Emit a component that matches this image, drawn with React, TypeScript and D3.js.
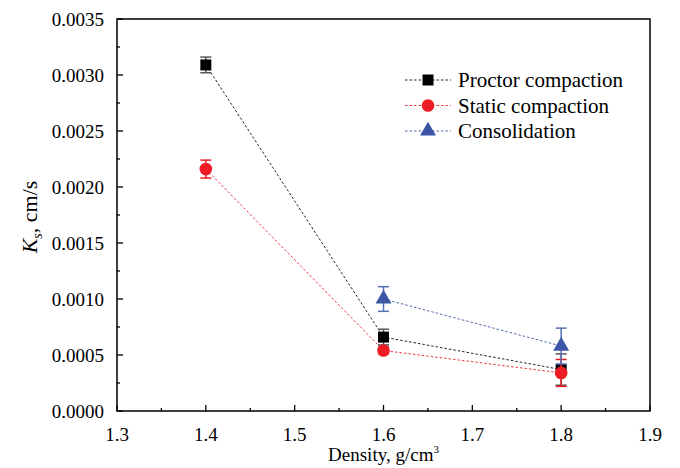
import React, { useEffect, useRef } from "react";
import * as d3 from "d3";

const densities = [1.4, 1.6, 1.8];

const proctor = [0.00309, 0.00066, 0.00037];
const proctorErr = [0.00007, 0.00007, 0.00014];

const staticComp = [0.00216, 0.00054, 0.00034];
const staticErr = [0.00008, 0.00003, 0.00012];

const consDensities = [1.6, 1.8];
const consolidation = [0.001, 0.00058];
const consErr = [0.00011, 0.00016];

const xTicks = [1.3, 1.4, 1.5, 1.6, 1.7, 1.8, 1.9];
const yTicks = [0, 0.0005, 0.001, 0.0015, 0.002, 0.0025, 0.003, 0.0035];

const legendNames = ["Proctor compaction", "Static compaction", "Consolidation"];

const FONT = "Liberation Serif";

const App = () => {
  const ref = useRef<SVGSVGElement>(null);

  useEffect(() => {
    const width = 680;
    const height = 468;
    const m = { left: 117, right: 30, top: 19, bottom: 57 };

    const svg = d3.select(ref.current);
    svg.selectAll("*").remove();
    svg.attr("width", width).attr("height", height).attr("font-family", FONT);

    const x = d3.scaleLinear().domain([1.3, 1.9]).range([m.left, width - m.right]);
    const y = d3.scaleLinear().domain([0, 0.0035]).range([height - m.bottom, m.top]);

    const g = svg.append("g");

    // frame
    g.append("rect")
      .attr("x", x(1.3))
      .attr("y", y(0.0035))
      .attr("width", x(1.9) - x(1.3))
      .attr("height", y(0) - y(0.0035))
      .attr("fill", "none")
      .attr("stroke", "#000")
      .attr("stroke-width", 1.5);

    // x ticks (inward)
    const xMinor = d3.range(1.35, 1.9, 0.1);
    g.selectAll(".xt")
      .data(xTicks)
      .enter()
      .append("line")
      .attr("x1", (d) => x(d))
      .attr("x2", (d) => x(d))
      .attr("y1", y(0))
      .attr("y2", y(0) - 6)
      .attr("stroke", "#000")
      .attr("stroke-width", 1.3);
    g.selectAll(".xm")
      .data(xMinor)
      .enter()
      .append("line")
      .attr("x1", (d) => x(d))
      .attr("x2", (d) => x(d))
      .attr("y1", y(0))
      .attr("y2", y(0) - 3)
      .attr("stroke", "#000")
      .attr("stroke-width", 1.3);
    g.selectAll(".xl")
      .data(xTicks)
      .enter()
      .append("text")
      .attr("x", (d) => x(d))
      .attr("y", y(0) + 30)
      .attr("text-anchor", "middle")
      .attr("font-family", FONT)
      .attr("font-size", 19)
      .text((d) => d3.format(".1f")(d));

    // y ticks (inward)
    const yMinor = d3.range(0.00025, 0.0035, 0.0005);
    g.selectAll(".yt")
      .data(yTicks)
      .enter()
      .append("line")
      .attr("x1", x(1.3))
      .attr("x2", x(1.3) + 6)
      .attr("y1", (d) => y(d))
      .attr("y2", (d) => y(d))
      .attr("stroke", "#000")
      .attr("stroke-width", 1.3);
    g.selectAll(".ym")
      .data(yMinor)
      .enter()
      .append("line")
      .attr("x1", x(1.3))
      .attr("x2", x(1.3) + 3)
      .attr("y1", (d) => y(d))
      .attr("y2", (d) => y(d))
      .attr("stroke", "#000")
      .attr("stroke-width", 1.3);
    g.selectAll(".yl")
      .data(yTicks)
      .enter()
      .append("text")
      .attr("x", x(1.3) - 13)
      .attr("y", (d) => y(d))
      .attr("dy", "0.35em")
      .attr("text-anchor", "end")
      .attr("font-family", FONT)
      .attr("font-size", 19)
      .text((d) => d3.format(".4f")(d));

    // axis titles
    const xt = g.append("text")
      .attr("x", (x(1.3) + x(1.9)) / 2)
      .attr("y", 461)
      .attr("text-anchor", "middle")
      .attr("font-family", FONT)
      .attr("font-size", 19);
    xt.append("tspan").text("Density, g/cm");
    xt.append("tspan").attr("font-size", 11).attr("dy", -8).text("3");

    const yt = g.append("text")
      .attr("transform", `translate(37,${y(0.00175) + 2}) rotate(-90)`)
      .attr("text-anchor", "middle")
      .attr("font-family", FONT)
      .attr("font-size", 22);
    yt.append("tspan").attr("font-style", "italic").text("K");
    yt.append("tspan").attr("font-style", "italic").attr("font-size", 14).attr("dy", 5).text("s");
    yt.append("tspan").attr("dy", -5).text(", cm/s");

    const series = [
      { xs: densities, ys: proctor, err: proctorErr, color: "#000", line: "#222", errColor: "#555", shape: d3.symbolSquare, size: 121 },
      { xs: densities, ys: staticComp, err: staticErr, color: "#ee1c24", line: "#f03a40", errColor: "#ee1c24", shape: d3.symbolCircle, size: 125 },
      { xs: consDensities, ys: consolidation, err: consErr, color: "#3b56a6", line: "#5068b0", errColor: "#5570b8", shape: d3.symbolTriangle, size: 110 },
    ];

    series.forEach((s) => {
      const pts = s.xs.map((d, i) => [x(d), y(s.ys[i])] as [number, number]);
      g.append("path")
        .attr("d", d3.line()(pts))
        .attr("fill", "none")
        .attr("stroke", s.line)
        .attr("stroke-width", 1)
        .attr("stroke-dasharray", "2.5,2");

      s.xs.forEach((d, i) => {
        const cx = x(d);
        const top = y(s.ys[i] + s.err[i]);
        const bot = y(s.ys[i] - s.err[i]);
        const eg = g.append("g").attr("stroke", s.errColor).attr("stroke-width", 1.5);
        eg.append("line").attr("x1", cx).attr("x2", cx).attr("y1", top).attr("y2", bot);
        eg.append("line").attr("x1", cx - 5.5).attr("x2", cx + 5.5).attr("y1", top).attr("y2", top);
        eg.append("line").attr("x1", cx - 5.5).attr("x2", cx + 5.5).attr("y1", bot).attr("y2", bot);
      });

      g.selectAll(null)
        .data(s.xs)
        .enter()
        .append("path")
        .attr("d", d3.symbol().type(s.shape).size(s.size)())
        .attr("transform", (d, i) => `translate(${x(d)},${y(s.ys[i])})`)
        .attr("fill", s.color);
    });

    // legend
    const lg = g.append("g");
    series.forEach((s, i) => {
      const ly = 80 + i * 25.5;
      lg.append("line")
        .attr("x1", 405)
        .attr("x2", 451)
        .attr("y1", ly)
        .attr("y2", ly)
        .attr("stroke", s.line)
        .attr("stroke-width", 1)
        .attr("stroke-dasharray", "2.5,2");
      lg.append("path")
        .attr("d", d3.symbol().type(s.shape).size(s.size)())
        .attr("transform", `translate(428,${ly})`)
        .attr("fill", s.color);
      lg.append("text")
        .attr("x", 458)
        .attr("y", ly + 7)
        .attr("font-family", FONT)
        .attr("font-size", 21)
        .text(legendNames[i]);
    });
  }, []);

  return (
    <div style={{ position: "absolute", left: 0, top: 0, background: "#fff" }}>
      <svg ref={ref}></svg>
    </div>
  );
};

export default App;
